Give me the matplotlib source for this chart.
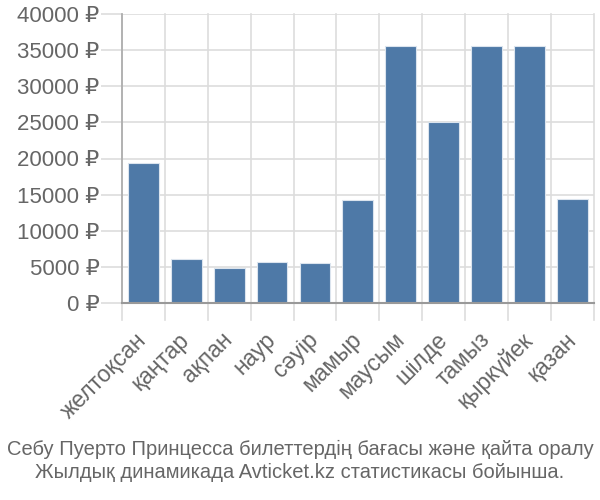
import matplotlib
matplotlib.use("Agg")
import matplotlib.pyplot as plt
import numpy as np

months = ["желтоқсан", "қаңтар", "ақпан", "наур", "сәуір", "мамыр",
          "маусым", "шілде", "тамыз", "қыркүйек", "қазан"]
prices = [19400, 6100, 4850, 5650, 5600, 14300, 35600, 25000, 35600, 35600, 14400]
yticks = [0, 5000, 10000, 15000, 20000, 25000, 30000, 35000, 40000]
title_lines = ["Себу Пуерто Принцесса билеттердің бағасы және қайта оралу",
               "Жылдық динамикада Avticket.kz статистикасы бойынша."]

plt.rcParams['font.family'] = ['Liberation Sans', 'DejaVu Sans']
txt = "#666666"
grid_c = "#dddddd"

fig = plt.figure(figsize=(6, 5), dpi=100)
ax = fig.add_axes([0.203, 0.394, 0.787, 0.578])

x = np.arange(len(months))
ax.bar(x, prices, width=0.72, color="#4e79a7", edgecolor="#dbe4ee", linewidth=0.8, zorder=3)

ax.set_xlim(-0.5, len(months) - 0.5)
ax.set_ylim(0, 40000)
ax.set_yticks(yticks)
ax.set_yticklabels([f"{v} ₽" for v in yticks], color=txt, fontsize=16)

# vertical grid at category boundaries, also sticking below the axis
for b in np.arange(-0.5, len(months), 1.0):
    ax.plot([b, b], [-0.06, 1], transform=ax.get_xaxis_transform(), color=grid_c,
            lw=1.2, clip_on=False, zorder=1)
ax.yaxis.grid(True, color=grid_c, lw=1.2, zorder=1)

ax.set_xticks(x)
ax.set_xticklabels(months, rotation=45, ha="right", va="center", rotation_mode="anchor",
                   color=txt, fontsize=16.5)
ax.tick_params(axis="x", length=0, pad=24)
ax.tick_params(axis="y", length=15, color=grid_c, width=1.2, pad=1)

for s in ["top", "right"]:
    ax.spines[s].set_visible(False)
ax.spines["left"].set_color("#aaaaaa")
ax.spines["left"].set_linewidth(1.2)
ax.spines["left"].set_bounds(0, 40000)
ax.spines["bottom"].set_color("#999999")
ax.spines["bottom"].set_linewidth(1.5)
ax.spines["bottom"].set_zorder(4)

fig.text(0.5, 0.078, title_lines[0] + "\n" + title_lines[1], ha="center", va="center",
         color=txt, fontsize=14.5, linespacing=1.3)

fig.savefig("out.png", dpi=100)
